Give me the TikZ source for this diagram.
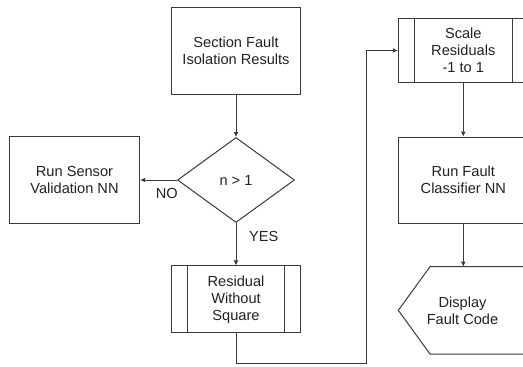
\documentclass[tikz,border=0pt]{standalone}
\usepackage{fontspec}
\setmainfont{Liberation Sans}
\usetikzlibrary{shapes.geometric,arrows.meta}
\definecolor{ln}{HTML}{3A3A3A}
\definecolor{tx}{HTML}{222222}
\tikzset{
  box/.style={rectangle, draw=ln, line width=1pt, align=center, inner sep=0pt, text=tx,
    font=\fontsize{14.6}{17}\selectfont},
  subproc/.style={box, path picture={
    \draw[ln, line width=1pt] ([xshift=16pt]path picture bounding box.north west) -- ([xshift=16pt]path picture bounding box.south west);
    \draw[ln, line width=1pt] ([xshift=-16pt]path picture bounding box.north east) -- ([xshift=-16pt]path picture bounding box.south east);}},
  decision/.style={diamond, draw=ln, line width=1pt, inner sep=0pt, text=tx,
    font=\fontsize{14.6}{17}\selectfont, minimum width=117pt, minimum height=85pt},
  lbl/.style={text=tx, inner sep=0pt, font=\fontsize{14.6}{17}\selectfont},
  arr/.style={draw=ln, line width=1pt, -{Latex[length=5pt,width=5pt]}},
  conn/.style={draw=ln, line width=1pt}
}
\begin{document}
\begin{tikzpicture}[x=1pt,y=-1pt]
\clip (0,0) rectangle (523,367);
\fill[white] (0,0) rectangle (523,367);
\node[box, minimum width=129pt, minimum height=87pt] (sec) at (236,50.5) {Section Fault\\Isolation Results};
\node[decision] (dia) at (236,180) {n > 1};
\node[box, minimum width=130.4pt, minimum height=86.3pt] (sens) at (74.5,180) {Run Sensor\\Validation NN};
\node[subproc, minimum width=129.3pt, minimum height=66.7pt] (res) at (236,299.3) {Residual\\Without\\Square};
\node[subproc, minimum width=130pt, minimum height=64.4pt] (scale) at (463.3,50.5) {Scale\\Residuals\\-1 to 1};
\node[box, minimum width=130pt, minimum height=86.3pt] (cls) at (463.3,180.2) {Run Fault\\Classifier NN};
\node[lbl, align=center] (disp) at (462.5,310.5) {Display\\Fault Code};
\coordinate (dtop) at (463.3,266.7);
\draw[conn] (540,266.7) -- (430,266.7) -- (398.3,310.3) -- (430,354) -- (540,354);
\node[lbl] (no) at (166.7,193) {NO};
\node[lbl] (yes) at (263.8,236.7) {YES};
\coordinate (c1) at (366.7,363.3);
\draw[arr] (sec.south) -- (dia.north);
\draw[arr] (dia.west) -- (sens.east);
\draw[arr] (dia.south) -- (res.north);
\draw[arr] (res.south) |- (c1) |- (scale.west);
\draw[arr] (scale.south) -- (cls.north);
\draw[arr] (cls.south) -- (dtop);
\end{tikzpicture}
\end{document}
